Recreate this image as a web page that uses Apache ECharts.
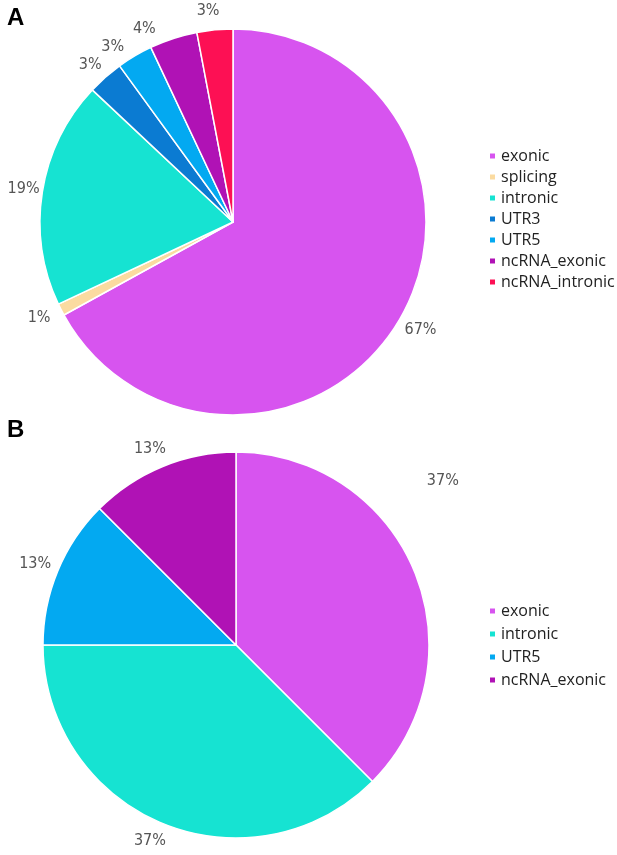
<!DOCTYPE html>
<html>
<head>
<meta charset="utf-8">
<script src="https://cdn.jsdelivr.net/npm/echarts@6/dist/echarts.min.js"></script>
<style>
  html, body { margin: 0; padding: 0; background: #fff; }
  #main { width: 617px; height: 855px; }
</style>
</head>
<body>
<div id="main"></div>
<script>
// 图A：所有变异的分布（百分比）
var namesA = ['exonic', 'splicing', 'intronic', 'UTR3', 'UTR5', 'ncRNA_exonic', 'ncRNA_intronic'];
var valuesA = [67, 1, 19, 3, 3, 4, 3];
// 图B：按扇区角度读取的计数，标签按原图文字
var namesB = ['exonic', 'intronic', 'UTR5', 'ncRNA_exonic'];
var valuesB = [3, 3, 1, 1];
var labelsB = ['37%', '37%', '13%', '13%'];

var colorMap = {
    exonic: '#d754ef',
    splicing: '#fbdba0',
    intronic: '#16e3d2',
    UTR3: '#0b7bd2',
    UTR5: '#03a9f1',
    ncRNA_exonic: '#b012b5',
    ncRNA_intronic: '#fd1054'
};

function makeData(names, values) {
    var out = [];
    for (var i = 0; i < names.length; i++) {
        out.push({ name: names[i], value: values[i], itemStyle: { color: colorMap[names[i]] } });
    }
    return out;
}

function labelStyle(fmt) {
    return {
        show: true,
        position: 'outside',
        formatter: fmt,
        overflow: 'none',
        color: '#555',
        fontSize: 16,
        fontFamily: 'Liberation Sans Narrow, DejaVu Sans Condensed, sans-serif'
    };
}

// 标签居中放在扇区外侧（不显示引导线）
function centerLabel(params) {
    var r = { align: 'center', verticalAlign: 'middle' };
    // 原图中B图exonic标签位置偏上
    if (params.seriesIndex === 1 && params.dataIndex === 0) {
        r.dy = -83;
        r.dx = 6;
    }
    return r;
}

var legendText = { fontSize: 16, color: '#222', fontFamily: 'Open Sans, Noto Sans, sans-serif' };

var option = {
    animation: false,
    graphic: [
        { type: 'text', left: 7, top: 6, style: { text: 'A', fontSize: 24, fontWeight: 'bold', fill: '#000', fontFamily: 'Liberation Sans, Arial' } },
        { type: 'text', left: 7, top: 418, style: { text: 'B', fontSize: 24, fontWeight: 'bold', fill: '#000', fontFamily: 'Liberation Sans, Arial' } }
    ],
    legend: [{
        data: namesA,
        orient: 'vertical',
        left: 483,
        top: 143,
        itemWidth: 7,
        itemHeight: 7,
        itemGap: 5,
        icon: 'rect',
        textStyle: legendText
    }, {
        data: namesB,
        orient: 'vertical',
        left: 483,
        top: 598,
        itemWidth: 7,
        itemHeight: 7,
        itemGap: 7,
        icon: 'rect',
        textStyle: legendText
    }],
    series: [{
        name: 'A',
        type: 'pie',
        center: [233, 222],
        radius: 193,
        startAngle: 90,
        clockwise: true,
        data: makeData(namesA, valuesA),
        itemStyle: { borderColor: '#fff', borderWidth: 1.5 },
        label: labelStyle(function (p) { return p.value + '%'; }),
        labelLine: { show: false, length: 19, length2: 0 },
        labelLayout: centerLabel
    }, {
        name: 'B',
        type: 'pie',
        center: [236, 645],
        radius: 193,
        startAngle: 90,
        clockwise: true,
        data: makeData(namesB, valuesB),
        itemStyle: { borderColor: '#fff', borderWidth: 1.5 },
        label: labelStyle(function (p) { return labelsB[p.dataIndex]; }),
        labelLine: { show: false, length: 19, length2: 0 },
        labelLayout: centerLabel
    }]
};

var chart = echarts.init(document.getElementById('main'));
chart.setOption(option);
</script>
</body>
</html>
